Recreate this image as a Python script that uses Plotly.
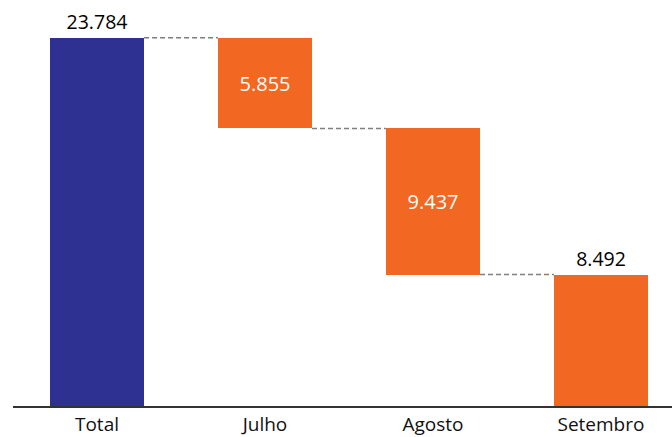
import plotly.graph_objects as go

categories = ["Total", "Julho", "Agosto", "Setembro"]
values = [23784, 5855, 9437, 8492]
labels = ["23.784", "5.855", "9.437", "8.492"]
colors = ["#2E3192", "#F26722", "#F26722", "#F26722"]

# compute waterfall bases: total from 0, then decreasing steps
bases = []
level = values[0]
bases.append(0)
for v in values[1:]:
    level -= v
    bases.append(level)
tops = [b + v for b, v in zip(bases, values)]

text_pos = ["outside", "inside", "inside", "outside"]

fig = go.Figure()
fig.add_trace(go.Bar(
    x=list(range(len(categories))), y=values, base=bases,
    marker=dict(color=colors, line=dict(width=0)),
    width=0.56,
    text=labels, textposition=text_pos,
    insidetextfont=dict(color="white", size=20, family="Open Sans"),
    outsidetextfont=dict(color="black", size=19.5, family="Open Sans"),
    insidetextanchor="middle",
    cliponaxis=False,
    hoverinfo="skip",
))

half = 0.28
for i in range(len(categories) - 1):
    yl = bases[i] if i > 0 else tops[i]
    fig.add_shape(type="line", xref="x", yref="y",
                  x0=i + half, x1=i + 1 - half, y0=yl, y1=yl,
                  line=dict(color="#7F7F7F", width=1.5, dash="5px,3px"))

fig.update_layout(
    width=672, height=437,
    margin=dict(l=13, r=0, t=10, b=29),
    paper_bgcolor="white", plot_bgcolor="white",
    showlegend=False,
    bargap=0,
    uniformtext=dict(mode=False),
)
fig.update_xaxes(
    range=[-0.5, 3.423],
    tickmode="array", tickvals=list(range(len(categories))), ticktext=categories,
    showgrid=False, zeroline=False,
    showline=True, linecolor="#333333", linewidth=1.5,
    ticks="", tickfont=dict(size=19, color="#111111", family="Open Sans"),
)
fig.update_yaxes(
    range=[0, 25584], visible=False, showgrid=False, zeroline=False,
)

fig.write_html("out.html")
